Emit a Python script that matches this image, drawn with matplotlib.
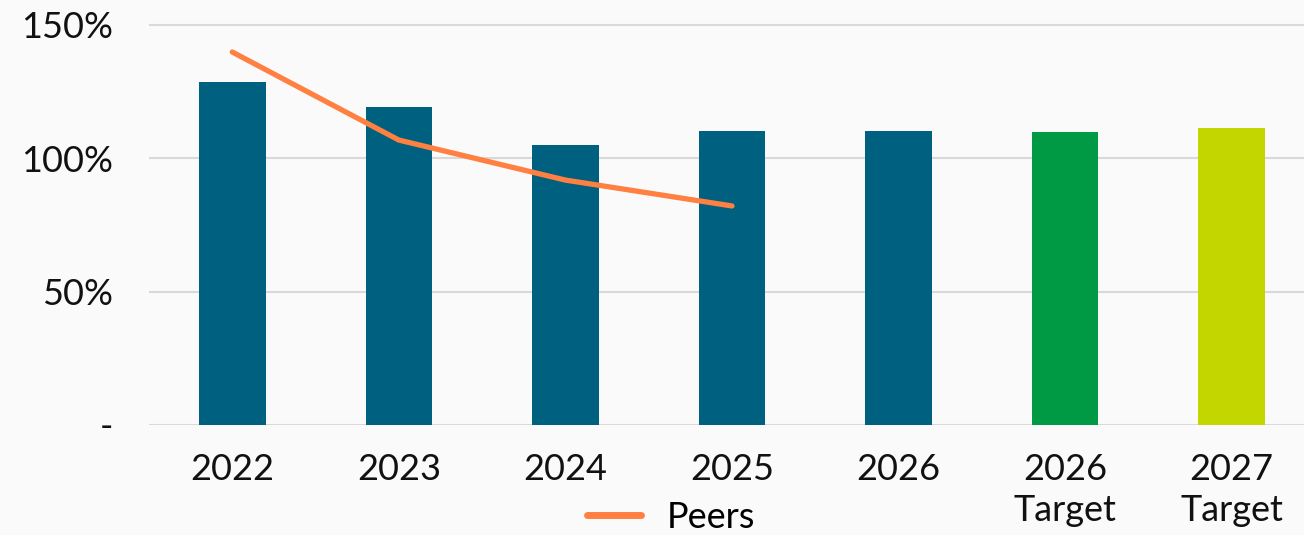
import matplotlib
matplotlib.use("Agg")
import matplotlib.pyplot as plt
from matplotlib.lines import Line2D

categories = ["2022", "2023", "2024", "2025", "2026", "2026\nTarget", "2027\nTarget"]
bar_values = [128.4, 119.3, 104.8, 110.1, 110.2, 109.7, 111.2]
bar_colors = ["#00607F", "#00607F", "#00607F", "#00607F", "#00607F", "#009A44", "#C4D600"]
peers_values = [139.8, 106.8, 91.8, 82.1]
peers_label = "Peers"
ytick_values = [0, 50, 100, 150]
ytick_labels = ["-", "50%", "100%", "150%"]

W, H = 1304, 535
bg = "#FAFAFA"
fig = plt.figure(figsize=(W / 100, H / 100), dpi=100, facecolor=bg)
plt.rcParams['font.family'] = ['Lato', 'DejaVu Sans']

# axes geometry in pixels
x_left, x_right = 149, 1315
y0_px, px_per_pct = 425, 2.668
ymax = 155
y_top_px = y0_px - ymax * px_per_pct
ax = fig.add_axes([x_left / W, (H - y0_px) / H, (x_right - x_left) / W, (y0_px - y_top_px) / H])
ax.set_facecolor(bg)

x = list(range(len(categories)))
ax.bar(x, bar_values, width=0.4, color=bar_colors, zorder=2)
ax.plot(x[:len(peers_values)], peers_values, color="#FF8040", lw=3.8,
        solid_capstyle="round", solid_joinstyle="round", zorder=3)

ax.set_xlim(-0.5, len(categories) - 0.5)
ax.set_ylim(0, ymax)
ax.set_yticks(ytick_values)
ax.set_yticklabels(ytick_labels)
ax.set_xticks(x)
ax.set_xticklabels(categories, linespacing=1.3)
ax.grid(axis="y", color="#D9D9D9", lw=1.5, zorder=0)
ax.set_axisbelow(True)
for s in ax.spines.values():
    s.set_visible(False)
ax.tick_params(axis="both", length=0, labelsize=26, colors="#111111")
ax.tick_params(axis="y", pad=26)
ax.tick_params(axis="x", pad=20)

handle = Line2D([], [], color="#FF8040", lw=5, solid_capstyle="round")
fig.legend([handle], [peers_label], loc="center", bbox_to_anchor=(671 / W, 1 - 517 / H),
           frameon=False, fontsize=26, handlelength=1.5, handletextpad=0.7)

fig.savefig("out.png", dpi=100, facecolor=bg)
